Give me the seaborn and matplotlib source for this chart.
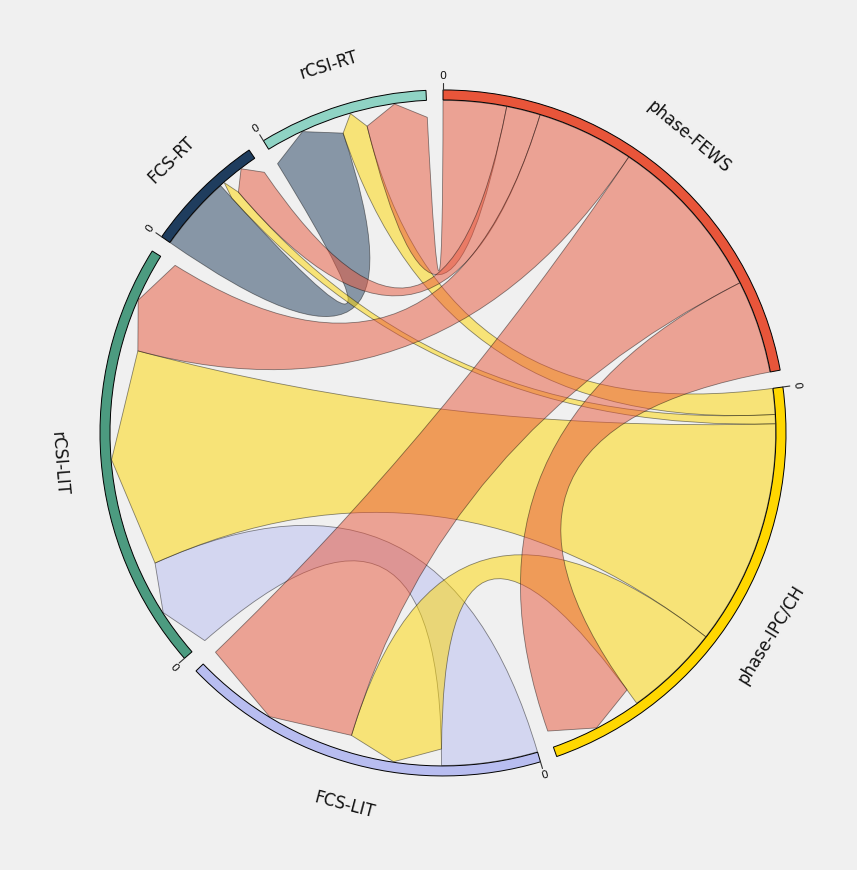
import numpy as np
import matplotlib
matplotlib.use("Agg")
import matplotlib.pyplot as plt
from matplotlib.path import Path
from matplotlib.patches import PathPatch, Wedge
import seaborn as sns

# ---------------- data ----------------
groups = ["phase-FEWS", "phase-IPC/CH", "FCS-LIT", "rCSI-LIT", "FCS-RT", "rCSI-RT"]
group_colors = ["#e8553a", "#ffd700", "#b8bdf0", "#4c9b80", "#1f3d5e", "#8fd3c4"]

sources = ["phase-FEWS", "phase-FEWS", "phase-FEWS", "phase-FEWS", "phase-FEWS",
           "phase-IPC/CH", "phase-IPC/CH", "phase-IPC/CH", "phase-IPC/CH",
           "FCS-LIT", "FCS-RT"]
targets = ["rCSI-RT", "FCS-RT", "rCSI-LIT", "FCS-LIT", "phase-IPC/CH",
           "rCSI-RT", "FCS-RT", "rCSI-LIT", "FCS-LIT",
           "rCSI-LIT", "rCSI-RT"]
values = [11.0, 5.9, 16.9, 29.1, 16.2,
          4.5, 1.6, 39.2, 16.5,
          16.7, 13.1]
tick_label = "0"

# ---------------- style ----------------
sns.set_theme(style="white")
plt.rcParams["font.family"] = ["DejaVu Sans"]
palette = sns.color_palette(group_colors)
BG = "#f0f0f0"

R_IN, R_OUT = 333.0, 343.0
R_RIB = 332.5
HEAD = 16.5
PAD = 2.85

n = len(groups)
idx = {g: i for i, g in enumerate(groups)}
k = (360.0 - n * PAD) / (2.0 * sum(values))

# layout (angles clockwise from top, in degrees)
chord_src = [None] * len(values)
chord_tgt = [None] * len(values)
group_span = []
x = 0.0
for i, g in enumerate(groups):
    items = []
    for c, (s, t) in enumerate(zip(sources, targets)):
        if idx[s] == i:
            items.append((idx[t], c, "out"))
        elif idx[t] == i:
            items.append((idx[s], c, "in"))
    items.sort(key=lambda it: -it[0])
    x0 = x
    for other, c, role in items:
        a0, a1 = x, x + values[c] * k
        if role == "out":
            chord_src[c] = (a0, a1)
        else:
            chord_tgt[c] = (a0, a1)
        x = a1
    group_span.append((x0, x))
    x += PAD


def pt(r, deg):
    t = np.deg2rad(deg)
    return (r * np.sin(t), r * np.cos(t))


fig = plt.figure(figsize=(8.57, 8.701), dpi=100, facecolor=BG)
ax = fig.add_axes([0, 0, 1, 1])
ax.set_facecolor(BG)
ax.set_xlim(-443, 857 - 443)
ax.set_ylim(-(870 - 433), 433)
ax.set_aspect("equal")
ax.axis("off")

# ---------------- ribbons ----------------
order = sorted(range(len(values)), key=lambda c: (-idx[sources[c]], -idx[targets[c]]))
for c in order:
    sa0, sa1 = chord_src[c]
    ta0, ta1 = chord_tgt[c]
    verts, codes = [], []
    arc = np.linspace(sa0, sa1, max(8, int(abs(sa1 - sa0) * 3)))
    for j, a in enumerate(arc):
        verts.append(pt(R_RIB, a))
        codes.append(Path.MOVETO if j == 0 else Path.LINETO)
    tr2 = R_RIB - HEAD
    verts += [(0, 0), pt(tr2, ta0)]
    codes += [Path.CURVE3, Path.CURVE3]
    verts.append(pt(R_RIB, (ta0 + ta1) / 2))
    codes.append(Path.LINETO)
    verts.append(pt(tr2, ta1))
    codes.append(Path.LINETO)
    verts += [(0, 0), pt(R_RIB, sa0)]
    codes += [Path.CURVE3, Path.CURVE3]
    verts.append(pt(R_RIB, sa0))
    codes.append(Path.CLOSEPOLY)
    col = palette[idx[sources[c]]]
    ax.add_patch(PathPatch(Path(verts, codes), facecolor=(*col, 0.5),
                           edgecolor=(0, 0, 0, 0.45), lw=0.6, zorder=2))

# ---------------- group arcs, labels, ticks ----------------
for i, g in enumerate(groups):
    a0, a1 = group_span[i]
    ax.add_patch(Wedge((0, 0), R_OUT, 90 - a1, 90 - a0, width=R_OUT - R_IN,
                       facecolor=palette[i], edgecolor="black", lw=0.7, zorder=3))
    mid = (a0 + a1) / 2
    rot = -mid
    if 90 < mid % 360 < 270:
        rot += 180
    lx, ly = pt(385, mid)
    ax.text(lx, ly, g, rotation=rot, rotation_mode="anchor", ha="center", va="center",
            fontsize=12, color="#111111", zorder=4)
    # tick at start of group
    p1, p2 = pt(R_OUT, a0), pt(R_OUT + 7, a0)
    ax.plot([p1[0], p2[0]], [p1[1], p2[1]], color="#333333", lw=0.8, zorder=4)
    trot = -a0
    if 90 < a0 % 360 < 270:
        trot += 180
    tx, ty = pt(357, a0)
    ax.text(tx, ty, tick_label, rotation=trot, rotation_mode="anchor", ha="center",
            va="center", fontsize=8, color="#111111", zorder=4)

fig.savefig("out.png", dpi=100, facecolor=BG)
